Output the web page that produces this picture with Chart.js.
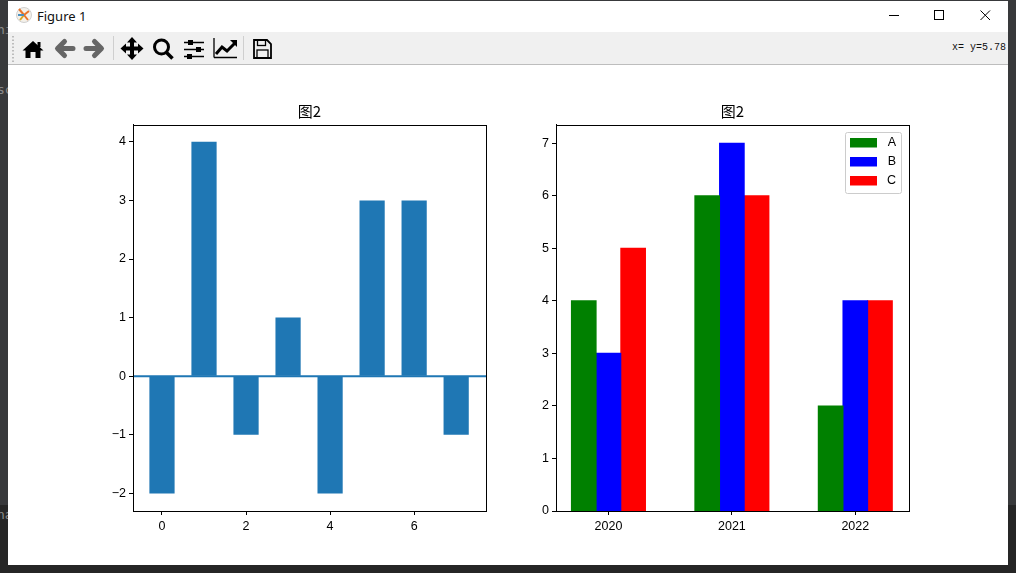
<!DOCTYPE html>
<html><head><meta charset="utf-8">
<script src="https://cdn.jsdelivr.net/npm/chart.js@4"></script>
<style>
html,body{margin:0;padding:0;width:1016px;height:573px;overflow:hidden;background:#262626;font-family:"Noto Sans",sans-serif}
.abs{position:absolute}
#strip{left:0;top:0;width:1016px;height:505px;background:#38393b}
#win{left:8px;top:1px;width:1000px;height:564px;background:#fff}
#bar{left:8px;top:32px;width:1000px;height:32px;background:#f0f0f0;border-bottom:1px solid #bdbdbd}
.bg{color:#8a8a8a;font:13px "DejaVu Sans Mono",monospace;left:-3px}
#ttl{left:37px;top:7px;font:13px "Noto Sans",sans-serif;color:#111}
#coord{right:10px;top:42px;font:10px "Liberation Mono",monospace;color:#111;white-space:pre}
canvas{position:absolute;display:block}
</style></head><body>
<div class="abs" id="strip"></div>
<div class="abs bg" style="top:22px">hi</div>
<div class="abs bg" style="top:82px">sc</div>
<div class="abs bg" style="top:507px">na</div>
<div class="abs" id="win"></div>
<div class="abs" id="bar"></div>
<div class="abs" id="ttl">Figure 1</div>
<div class="abs" id="coord">x= y=5.78</div>
<svg class="abs" style="left:0;top:0" width="1016" height="70" xmlns="http://www.w3.org/2000/svg">
 <circle cx="24" cy="15" r="7.5" fill="#f4f1ea" stroke="#d0d0d0"/>
 <path d="M24 15L19 9M24 15L29 11" stroke="#e8742a" stroke-width="2"/><path d="M24 15L20 20" stroke="#d9a520" stroke-width="2"/><path d="M24 15L28 20" stroke="#e8742a" stroke-width="2"/><path d="M24 15L18 15" stroke="#4a90c0" stroke-width="2"/>
 <path d="M889 15.5H899" stroke="#000"/><rect x="934.5" y="10.5" width="9" height="9" fill="none" stroke="#000"/><path d="M980.5 10.5L990 20M990 10.5L980.5 20" stroke="#000"/>
 <path d="M13 36V62" stroke="#aaa" stroke-dasharray="1.5 2" stroke-width="1.5"/>
 <path d="M33 41L43.500 50.500H40.500V58H35.500V52H30.500V58H25.500V50.500H22.500Z" fill="#000"/><rect x="37.500" y="42" width="3" height="5" fill="#000"/>
 <path d="M73 48.500H58M64.500 41.500L57.500 48.500L64.500 55.500" fill="none" stroke="#666" stroke-width="5" stroke-linejoin="round" stroke-linecap="round"/>
 <path d="M86 48.500H101M94.500 41.500L101.500 48.500L94.500 55.500" fill="none" stroke="#666" stroke-width="5" stroke-linejoin="round" stroke-linecap="round"/>
 <path d="M113.500 36V60M243.500 36V60" stroke="#cfcfcf"/>
 <path d="M132 37L137 42.500H134V46.500H138V43.500L143.500 48.500L138 53.500V50.500H134V54.500H137L132 60L127 54.500H130V50.500H126V53.500L120.500 48.500L126 43.500V46.500H130V42.500H127Z" fill="#000"/>
 <circle cx="161.500" cy="47" r="7" fill="none" stroke="#000" stroke-width="3"/><path d="M166.500 52.500L172.500 58.500" stroke="#000" stroke-width="3.500"/>
 <path d="M184 42.500H204M184 49.500H204M184 56.500H204" stroke="#000" stroke-width="1.300"/><rect x="188" y="40" width="5" height="5"/><rect x="196" y="47" width="5" height="5"/><rect x="187" y="54" width="5" height="5"/>
 <path d="M214 57.500H237M214 38V57.500" fill="none" stroke="#000" stroke-width="1.300"/><path d="M216 54L222 47L227 51L235 43" fill="none" stroke="#000" stroke-width="3"/><path d="M230 40H237V47Z" fill="#000"/>
 <path d="M254 40H267L271 44V58H254Z" fill="none" stroke="#000" stroke-width="1.800"/><rect x="257.500" y="40" width="8" height="5.500" fill="none" stroke="#000" stroke-width="1.300"/><rect x="257" y="50" width="11" height="8" fill="none" stroke="#000" stroke-width="1.300"/>
</svg>
<canvas id="c1" style="left:70px;top:101px"></canvas>
<canvas id="c2" style="left:510px;top:101px"></canvas>
<script>
// Left chart data
const leftX = [0,1,2,3,4,5,6,7];
const leftY = [-2,4,-1,1,-2,3,3,-1];
const leftXTicks = [0,2,4,6];
const leftYTicks = [-2,-1,0,1,2,3,4];
const leftBaseline = [0,0];
// Right chart data
const years = ['2020','2021','2022'];
const seriesA = [4,6,2];
const seriesB = [3,7,4];
const seriesC = [5,6,4];
const rightYTicks = [0,1,2,3,4,5,6,7];
const titleText = '图2';

const FONT = {family:'"Liberation Sans",sans-serif', size:12.5};
const BLUE = '#1f77b4';

const frame = {
  id:'frame',
  afterLayout(ch){
    const l = ch.legend;
    if(l && l.options.display){
      const ox = ch.canvas.offsetLeft, oy = ch.canvas.offsetTop;
      l.left = 843.5-ox; l.right = 896-ox; l.top = 130-oy; l.bottom = 198-oy;
      l.width = l.right-l.left; l.height = l.bottom-l.top;
      ch._legendFrame = [845.5-ox,132.5-oy,56,61];
    }
  },
  afterDatasetsDraw(ch){
    const a = ch.chartArea, c = ch.ctx; c.save();
    c.strokeStyle='#000'; c.lineWidth=1;
    c.strokeRect(Math.round(a.left)+.5,Math.round(a.top)+.5,Math.round(a.right-a.left),Math.round(a.bottom-a.top));
    if(ch._legendFrame){
      c.beginPath(); c.roundRect(...ch._legendFrame,2);
      c.strokeStyle='#ccc'; c.stroke();
    }
    c.restore();
  }
};
function setSize(el,w,h){el.width=w;el.height=h;el.style.width=w+'px';el.style.height=h+'px';}
const axisBase = ()=>({
  grid:{offset:false,drawOnChartArea:false,drawTicks:true,tickLength:4,tickColor:'#000',tickWidth:1},
  border:{color:'#000',width:1},
});
const titleOpts = ()=>({display:true,text:titleText,color:'#000',fullSize:false,
  font:{family:'"Noto Sans CJK SC",sans-serif',size:15,weight:'normal'},padding:{top:1,bottom:4.8}});
setSize(document.getElementById('c1'),430,450);
setSize(document.getElementById('c2'),430,450);

new Chart('c1',{
  type:'bar',
  data:{datasets:[
    {type:'line',data:[{x:-0.69,y:leftBaseline[0]},{x:7.71,y:leftBaseline[1]}],borderColor:BLUE,borderWidth:2,pointRadius:0,order:0},
    {type:'bar',data:leftX.map((x,i)=>({x,y:leftY[i]})),backgroundColor:BLUE,barPercentage:0.6,categoryPercentage:1,inflateAmount:0,order:1}
  ]},
  options:{
    responsive:false,animation:false,
    layout:{padding:{left:23,top:0,right:14,bottom:10}},
    scales:{
      x:Object.assign(axisBase(),{type:'linear',offset:false,min:-0.69,max:7.71,
        afterBuildTicks(s){s.ticks=leftXTicks.map(v=>({value:v}));},
        afterFit(s){s.height=30;},
        ticks:{color:'#000',font:FONT,padding:4,maxRotation:0,autoSkip:false,callback:v=>String(v)}}),
      y:Object.assign(axisBase(),{type:'linear',min:-2.3,max:4.29,
        afterBuildTicks(s){s.ticks=leftYTicks.map(v=>({value:v}));},
        afterFit(s){s.width=40;},
        ticks:{color:'#000',font:FONT,padding:3,callback:v=>String(v).replace('-','\u2212')}})
    },
    plugins:{tooltip:{enabled:false},title:titleOpts(),legend:{display:false}}
  },
  plugins:[frame]
});

new Chart('c2',{
  type:'bar',
  data:{datasets:[
    {label:'A',data:seriesA.map((y,i)=>({x:i,y})),backgroundColor:'#008000'},
    {label:'B',data:seriesB.map((y,i)=>({x:i,y})),backgroundColor:'#0000ff'},
    {label:'C',data:seriesC.map((y,i)=>({x:i,y})),backgroundColor:'#ff0000'}
  ]},
  options:{
    responsive:false,animation:false,
    datasets:{bar:{barPercentage:1,categoryPercentage:0.6,inflateAmount:0.5}},
    layout:{padding:{left:6,top:0,right:31,bottom:10}},
    scales:{
      x:Object.assign(axisBase(),{type:'linear',offset:false,min:-0.425,max:2.435,
        afterBuildTicks(s){s.ticks=years.map((_,i)=>({value:i}));},
        afterFit(s){s.height=30;},
        ticks:{color:'#000',font:FONT,padding:4,maxRotation:0,autoSkip:false,callback:v=>years[v]}}),
      y:Object.assign(axisBase(),{type:'linear',min:0,max:7.35,
        afterBuildTicks(s){s.ticks=rightYTicks.map(v=>({value:v}));},
        afterFit(s){s.width=40;},
        ticks:{color:'#000',font:FONT,padding:3}})
    },
    plugins:{tooltip:{enabled:false},title:titleOpts(),
      legend:{display:true,position:'chartArea',align:'start',onClick:null,
        labels:{boxWidth:27,boxHeight:9.5,padding:6.5,color:'#000',font:FONT,textAlign:'right'}}
    }
  },
  plugins:[frame]
});
</script>
</body></html>
